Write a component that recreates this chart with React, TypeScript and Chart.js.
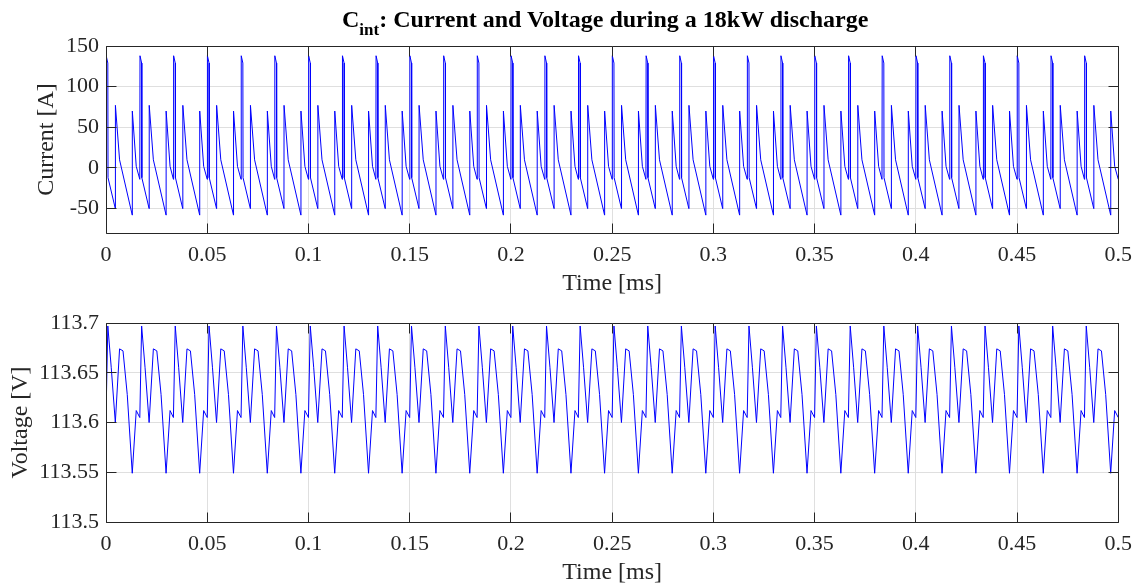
import React, { useEffect, useRef } from 'react';
import { Chart, registerables } from 'chart.js';

Chart.register(...registerables);

// Start time (ms) of each switching period, read from the big current spikes
const periodStarts = [
  0, 0.0167, 0.0333, 0.05, 0.0667, 0.0833, 0.1, 0.1167, 0.1333, 0.15,
  0.1667, 0.1833, 0.2, 0.2167, 0.2333, 0.25, 0.2667, 0.2833, 0.3, 0.3167,
  0.3333, 0.35, 0.3667, 0.3833, 0.4, 0.4167, 0.4333, 0.45, 0.4667, 0.4833, 0.5,
];

// One period of the current waveform (time offset in ms, value in A)
const currentOffsets = [0, 0.0001, 0.0009, 0.001, 0.0046, 0.00465, 0.0067, 0.01297, 0.013, 0.01494];
const currentShape = [-14, 138, 129, -12, -50, 77, 10, -58, 70, 2];

// One period of the voltage waveform (time offset in ms, value in V)
const voltageOffsets = [0, 0.0009, 0.0026, 0.0046, 0.0067, 0.0084, 0.0105, 0.01297, 0.01494];
const voltageShape = [113.605, 113.697, 113.655, 113.6, 113.674, 113.672, 113.628, 113.549, 113.612];

const timeTicks = [0, 0.05, 0.1, 0.15, 0.2, 0.25, 0.3, 0.35, 0.4, 0.45, 0.5];
const currentTicks = [-50, 0, 50, 100, 150];
const voltageTicks = [113.5, 113.55, 113.6, 113.65, 113.7];

const FONT = '"Liberation Serif", "Times New Roman", serif';
const AXIS_COLOR = '#262626';
const GRID_COLOR = '#dfdfdf';
const TICK_LEN = 10;

function buildSeries(offsets: number[], shape: number[]) {
  const pts: { x: number; y: number }[] = [];
  periodStarts.forEach((t0) => {
    offsets.forEach((dt, i) => pts.push({ x: t0 + dt, y: shape[i] }));
  });
  return pts;
}

const align = (p: number) => Math.round(p - 0.5) + 0.5;

const boxPlugin = {
  id: 'matlabBox',
  afterDraw(chart: any) {
    const { ctx, chartArea: a, scales } = chart;
    const xs = scales.x;
    const ys = scales.y;
    const L = align(a.left);
    const R = align(a.right);
    const T = align(a.top);
    const B = align(a.bottom);
    ctx.save();
    ctx.strokeStyle = AXIS_COLOR;
    ctx.lineWidth = 1;
    ctx.beginPath();
    ctx.rect(L, T, R - L, B - T);
    xs.ticks.forEach((t: any) => {
      const px = align(xs.getPixelForValue(t.value));
      ctx.moveTo(px, B);
      ctx.lineTo(px, B - TICK_LEN);
      ctx.moveTo(px, T);
      ctx.lineTo(px, T + TICK_LEN);
    });
    ys.ticks.forEach((t: any) => {
      const py = align(ys.getPixelForValue(t.value));
      ctx.moveTo(L, py);
      ctx.lineTo(L + TICK_LEN, py);
      ctx.moveTo(R, py);
      ctx.lineTo(R - TICK_LEN, py);
    });
    ctx.stroke();
    ctx.restore();
  },
};

interface PanelProps {
  top: number;
  height: number;
  data: { x: number; y: number }[];
  yMin: number;
  yMax: number;
  yTicks: number[];
  yTitle: string;
  yTitlePad: number;
  padTop: number;
  padRight: number;
  xAxisHeight: number;
  xTitlePad: number;
}

function Panel(p: PanelProps) {
  const ref = useRef<HTMLCanvasElement | null>(null);
  useEffect(() => {
    if (!ref.current) return;
    const chart = new Chart(ref.current, {
      type: 'line',
      data: {
        datasets: [
          {
            data: p.data,
            borderColor: '#0000ff',
            borderWidth: 1,
            pointRadius: 0,
            tension: 0,
            fill: false,
          },
        ],
      },
      options: {
        animation: false,
        responsive: false,
        devicePixelRatio: 1,
        events: [],
        layout: { padding: { left: 0, top: p.padTop, right: p.padRight, bottom: 0 } },
        plugins: { legend: { display: false }, tooltip: { enabled: false }, title: { display: false } },
        scales: {
          x: {
            type: 'linear',
            min: 0,
            max: 0.5,
            afterBuildTicks: (s: any) => {
              s.ticks = timeTicks.map((v) => ({ value: v }));
            },
            afterFit: (s: any) => {
              s.height = p.xAxisHeight;
            },
            grid: { color: GRID_COLOR, lineWidth: 1, drawTicks: false },
            border: { display: false },
            ticks: {
              color: AXIS_COLOR,
              font: { family: FONT, size: 22 },
              padding: 9,
              maxRotation: 0,
              autoSkip: false,
              callback: (v: any) => String(v),
            },
            title: {
              display: true,
              text: 'Time [ms]',
              color: AXIS_COLOR,
              font: { family: FONT, size: 24 },
              padding: { top: 0, bottom: p.xTitlePad },
            },
          },
          y: {
            type: 'linear',
            min: p.yMin,
            max: p.yMax,
            afterBuildTicks: (s: any) => {
              s.ticks = p.yTicks.map((v) => ({ value: v }));
            },
            afterFit: (s: any) => {
              s.width = 106;
            },
            grid: { color: GRID_COLOR, lineWidth: 1, drawTicks: false },
            border: { display: false },
            ticks: {
              color: AXIS_COLOR,
              font: { family: FONT, size: 22 },
              padding: 7,
              autoSkip: false,
              callback: (v: any) => String(v),
            },
            title: {
              display: true,
              text: p.yTitle,
              color: AXIS_COLOR,
              font: { family: FONT, size: 24 },
              padding: { top: p.yTitlePad, bottom: 0 },
            },
          },
        },
      },
      plugins: [boxPlugin],
    } as any);
    return () => chart.destroy();
  }, []);
  return (
    <canvas
      ref={ref}
      width={1141}
      height={p.height}
      style={{ position: 'absolute', left: 0, top: p.top, width: 1141, height: p.height }}
    />
  );
}

export default function App() {
  const currentData = buildSeries(currentOffsets, currentShape);
  const voltageData = buildSeries(voltageOffsets, voltageShape);
  return (
    <div
      style={{
        position: 'absolute',
        left: 0,
        top: 0,
        width: 1141,
        height: 585,
        overflow: 'hidden',
        background: '#ffffff',
      }}
    >
      <Panel
        top={0}
        height={300}
        data={currentData}
        yMin={-80}
        yMax={150}
        yTicks={currentTicks}
        yTitle="Current [A]"
        yTitlePad={32}
        padTop={46}
        padRight={17}
        xAxisHeight={67}
        xTitlePad={2}
      />
      <Panel
        top={290}
        height={295}
        data={voltageData}
        yMin={113.5}
        yMax={113.7}
        yTicks={voltageTicks}
        yTitle="Voltage [V]"
        yTitlePad={6}
        padTop={33}
        padRight={19}
        xAxisHeight={63}
        xTitlePad={-2}
      />
      <div
        style={{
          position: 'absolute',
          left: 342,
          top: 7,
          fontFamily: FONT,
          fontWeight: 'bold',
          fontSize: 24,
          lineHeight: '24px',
          color: '#000000',
          whiteSpace: 'nowrap',
        }}
      >
        C<span style={{ fontSize: 17, position: 'relative', top: 8 }}>int</span>: Current and Voltage during a 18kW discharge
      </div>
    </div>
  );
}
